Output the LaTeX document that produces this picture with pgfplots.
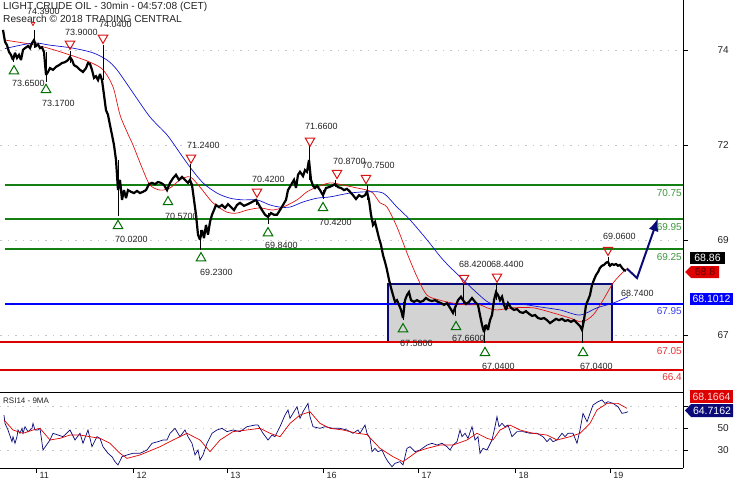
\documentclass[border=0pt]{standalone}
\usepackage{pgfplots}
\pgfplotsset{compat=1.18}
\usetikzlibrary{arrows.meta}
\usepackage{fontspec}
\setmainfont{Liberation Sans}
\definecolor{lgreen}{RGB}{20,128,20}
\definecolor{tgreen}{RGB}{60,150,60}
\definecolor{lblue}{RGB}{0,0,255}
\definecolor{tblue}{RGB}{60,60,230}
\definecolor{lred}{RGB}{220,0,0}
\definecolor{tred}{RGB}{230,50,50}
\definecolor{navy}{RGB}{10,10,120}
\definecolor{boxgray}{RGB}{211,211,211}
\definecolor{mared}{RGB}{225,20,20}
\definecolor{mablue}{RGB}{20,20,210}
\definecolor{mkred}{RGB}{215,20,20}
\definecolor{mkgreen}{RGB}{0,110,0}
\definecolor{txt}{RGB}{35,35,35}
\newcommand{\lbl}[3]{\node[anchor=west,inner sep=0pt,font=\fontsize{9}{10}\selectfont,text=txt] at (axis cs:#1,#2) {#3};}
\newcommand{\rlbl}[4]{\node[anchor=east,inner sep=0pt,font=\fontsize{10}{11}\selectfont,text=#4] at (axis cs:#1,#2) {#3};}
\begin{document}
\begin{tikzpicture}
\useasboundingbox (0pt,0pt) rectangle (735pt,480pt);
% ---------------- main price panel ----------------
\begin{axis}[at={(0pt,88pt)}, anchor=south west, scale only axis,
  width=683pt, height=392pt, xmin=0, xmax=683, ymin=65.879, ymax=75.103,
  axis x line*=bottom, axis y line*=right, clip=false,
  axis line style={black, line width=0.8pt},
  xtick=\empty,
  ytick={73.927,71.691,69.456,67.221}, yticklabels={74,72,69,67},
  yticklabel style={font=\fontsize{10}{11}\selectfont, text=txt, xshift=26pt},
  tick align=outside, major tick length=5pt, tick style={black, line width=0.6pt},
  ymajorgrids, major grid style={gray!45, dash pattern=on 1.5pt off 6pt, line width=0.5pt},
  unbounded coords=jump]
% consolidation box
\addplot[draw=navy, line width=1.8pt, fill=boxgray] coordinates {(388,68.42) (612,68.42) (612,67.05) (388,67.05)} -- cycle;
% horizontal levels
\addplot[lgreen, line width=2pt] coordinates {(5,70.75) (683,70.75)};
\addplot[lgreen, line width=2pt] coordinates {(5,69.95) (683,69.95)};
\addplot[lgreen, line width=2pt] coordinates {(5,69.25) (683,69.25)};
\addplot[lblue, line width=2pt] coordinates {(5,67.95) (683,67.95)};
\addplot[lred, line width=2pt] coordinates {(0,67.05) (683,67.05)};
\addplot[lred, line width=2pt] coordinates {(0,66.40) (683,66.40)};
% moving averages
\addplot[mared, line width=0.7pt, smooth] coordinates {
(5,74.16)(40,74.02)(70,73.81)(90,73.64)(103,73.46)(113,73.06)(120,72.40)(127,72.00)(133,71.69)(143,71.10)(150,70.75)(160,70.63)(170,70.68)(180,70.87)(190,70.94)(200,70.70)(213,70.33)(227,70.11)(237,70.09)(247,70.16)(260,70.21)(273,70.16)(283,70.23)(297,70.40)(307,70.59)(317,70.70)(330,70.80)(343,70.75)(357,70.68)(367,70.63)(373,70.56)(380,70.33)(387,70.23)(397,69.76)(407,69.15)(417,68.59)(427,68.16)(440,68.04)(453,67.97)(467,67.93)(480,67.93)(487,67.86)(497,67.81)(513,67.86)(533,67.86)(553,67.74)(570,67.62)(582,67.53)(593,67.69)(603,68.04)(613,68.44)(623,68.70)(628,68.80)};
\addplot[mablue, line width=0.7pt, smooth] coordinates {
(5,73.96)(33,74.09)(50,74.04)(73,73.97)(93,73.86)(107,73.69)(117,73.46)(133,72.92)(150,72.35)(167,71.93)(180,71.50)(190,71.17)(203,70.80)(217,70.56)(230,70.44)(243,70.40)(257,70.40)(270,70.28)(280,70.23)(290,70.23)(303,70.35)(317,70.44)(330,70.47)(350,70.56)(367,70.59)(383,70.56)(397,70.23)(410,69.93)(427,69.46)(443,68.99)(460,68.59)(477,68.21)(490,67.97)(507,67.93)(520,67.95)(540,67.88)(560,67.81)(580,67.69)(597,67.86)(613,67.97)(628,68.12)};
% wicks
\addplot[black, line width=1pt] coordinates {
(13,73.65)(13,73.81)(13,nan)(34,73.97)(34,74.39)(34,nan)(46,73.17)(46,73.88)(46,nan)
(70,73.62)(70,73.90)(70,nan)(103,73.22)(103,74.04)(103,nan)(118,70.02)(118,71.34)(118,nan)
(190,70.75)(190,71.24)(190,nan)(200,69.23)(200,69.69)(200,nan)(256,70.28)(256,70.42)(256,nan)
(268,69.84)(268,70.09)(268,nan)(309,70.87)(309,71.66)(309,nan)(323,70.42)(323,70.63)(323,nan)
(335,70.70)(335,70.87)(335,nan)(367,70.40)(367,70.75)(367,nan)(403,67.58)(403,68.00)(403,nan)
(455,67.66)(455,67.97)(455,nan)(463,67.95)(463,68.42)(463,nan)(484,67.04)(484,67.46)(484,nan)
(496,68.04)(496,68.44)(496,nan)(582,67.04)(582,67.57)(582,nan)(608,68.85)(608,69.06)};
% price (closes)
\addplot[black, line width=2.2pt, line join=miter, miter limit=3] coordinates {
(3,74.40)(5,74.12)(7,74.04)(9,73.88)(11,73.81)(13,73.69)(15,73.86)(17,73.74)(19,73.81)(21,73.69)
(23,73.93)(25,73.97)(28,74.02)(30,73.97)(32,74.09)(34,74.16)(36,74.02)(38,74.06)(40,73.97)(42,73.99)
(44,73.88)(46,73.34)(48,73.41)(50,73.50)(53,73.46)(56,73.53)(59,73.57)(62,73.62)(65,73.64)(68,73.69)
(70,73.76)(72,73.69)(74,73.57)(77,73.53)(80,73.46)(83,73.41)(86,73.50)(88,73.62)(90,73.60)(92,73.46)
(94,73.27)(96,73.31)(98,73.22)(100,73.36)(102,73.22)(104,72.87)(106,72.51)(108,72.40)(110,72.16)(112,71.93)
(114,71.69)(116,71.34)(118,70.63)(120,70.87)(122,70.40)(124,70.63)(126,70.44)(128,70.63)(131,70.59)(134,70.56)
(137,70.61)(140,70.56)(143,70.59)(146,70.63)(149,70.77)(152,70.80)(155,70.77)(158,70.82)(161,70.80)(164,70.75)
(167,70.63)(170,70.80)(173,70.91)(176,70.99)(179,70.87)(182,70.94)(185,70.87)(188,70.80)(190,70.87)(192,70.75)
(194,70.40)(196,70.05)(198,69.58)(200,69.46)(202,69.69)(204,69.50)(206,69.81)(208,69.58)(210,69.88)(212,70.05)
(214,70.16)(216,70.28)(219,70.23)(222,70.28)(225,70.21)(228,70.30)(231,70.23)(234,70.16)(237,70.28)(240,70.33)
(244,70.26)(248,70.30)(252,70.35)(256,70.40)(259,70.28)(262,70.16)(265,70.05)(268,70.00)(271,70.09)(274,70.05)
(277,70.05)(280,70.16)(283,70.28)(286,70.40)(288,70.63)(291,70.75)(294,70.87)(296,70.68)(298,70.99)(300,71.06)
(303,70.96)(305,71.10)(307,71.06)(309,71.34)(311,70.87)(313,70.73)(315,70.68)(317,70.73)(320,70.63)(323,70.51)
(326,70.68)(329,70.70)(332,70.73)(335,70.77)(338,70.70)(341,70.68)(344,70.63)(347,70.66)(350,70.59)(353,70.51)
(356,70.42)(359,70.51)(362,70.47)(365,70.51)(367,70.59)(369,70.40)(371,70.05)(373,69.81)(375,69.88)(377,69.69)
(379,69.50)(381,69.34)(383,69.10)(385,68.94)(387,68.75)(389,68.52)(391,68.33)(393,68.16)(395,68.00)(397,68.04)
(399,67.93)(401,67.81)(403,67.62)(405,68.04)(407,68.16)(409,68.23)(411,68.04)(414,68.00)(417,68.04)(420,68.00)
(423,68.02)(426,68.09)(429,68.04)(432,68.02)(435,68.04)(438,68.00)(441,67.97)(444,67.93)(447,67.97)(450,67.86)
(453,67.74)(455,67.86)(458,68.04)(461,68.12)(463,68.04)(466,67.95)(469,68.00)(472,68.09)(475,68.00)(478,67.93)
(480,67.69)(482,67.46)(484,67.29)(486,67.46)(488,67.34)(490,67.57)(492,67.69)(494,68.04)(496,68.23)(498,68.16)
(500,68.04)(502,68.12)(504,67.93)(506,67.81)(508,67.97)(511,67.86)(514,67.81)(517,67.83)(520,67.76)(523,67.74)
(526,67.78)(529,67.72)(532,67.67)(535,67.69)(538,67.62)(541,67.60)(544,67.62)(547,67.57)(550,67.50)(553,67.55)
(556,67.60)(559,67.57)(562,67.60)(565,67.55)(568,67.57)(571,67.53)(574,67.57)(577,67.50)(580,67.43)(582,67.34)
(584,67.57)(586,67.93)(588,68.04)(590,68.16)(592,68.40)(594,68.52)(596,68.63)(598,68.70)(600,68.80)(602,68.85)
(604,68.87)(606,68.92)(608,68.94)(610,68.85)(612,68.89)(614,68.87)(616,68.89)(618,68.85)(620,68.87)(622,68.80)
(624,68.75)(626,68.73)};
% forecast arrow
\addplot[navy, line width=2pt, -{Latex[length=13pt,width=10pt]}] coordinates {(627,68.78) (637,68.56) (658,69.97)};
% swing markers
\addplot[only marks, mark=triangle, mark size=5.5pt, mark options={draw=mkred, fill=white, line width=1pt, rotate=180}] coordinates {
(70,74.07)(103,74.21)(191,71.39)(257,70.59)(310,71.79)(337,71.03)(366,70.91)(464,68.56)(497,68.59)(608,69.22)};
\addplot[only marks, mark=triangle, mark size=2pt, mark options={draw=mkred, line width=0.8pt, rotate=180}] coordinates {(33,74.55)};
\addplot[only marks, mark=triangle, mark size=5.5pt, mark options={draw=mkgreen, fill=white, line width=1pt}] coordinates {
(14,73.43)(46,72.99)(118,69.79)(168,70.35)(201,69.03)(268,69.62)(323,70.21)(403,67.36)(456,67.41)(485,66.80)(583,66.80)};
% swing labels
\lbl{27}{74.84}{74.3900}
\lbl{65}{74.35}{73.9000}
\lbl{99}{74.52}{74.0400}
\lbl{187}{71.69}{71.2400}
\lbl{252}{70.87}{70.4200}
\lbl{305}{72.12}{71.6600}
\lbl{333}{71.31}{70.8700}
\lbl{362}{71.22}{70.7500}
\lbl{459}{68.87}{68.4200}
\lbl{491}{68.87}{68.4400}
\lbl{603}{69.53}{69.0600}
\lbl{12}{73.15}{73.6500}
\lbl{42}{72.66}{73.1700}
\lbl{115}{69.48}{70.0200}
\lbl{165}{70.02}{70.5700}
\lbl{200}{68.70}{69.2300}
\lbl{265}{69.32}{69.8400}
\lbl{319}{69.86}{70.4200}
\lbl{400}{67.03}{67.5800}
\lbl{452}{67.13}{67.6600}
\lbl{482}{66.47}{67.0400}
\lbl{580}{66.47}{67.0400}
\lbl{621}{68.21}{68.7400}
% level labels
\rlbl{682}{70.56}{70.75}{tgreen}
\rlbl{682}{69.76}{69.95}{tgreen}
\rlbl{682}{69.06}{69.25}{tgreen}
\rlbl{682}{67.79}{67.95}{tblue}
\rlbl{682}{66.84}{67.05}{tred}
\rlbl{682}{66.23}{66.4}{tred}
\end{axis}
% ---------------- RSI panel ----------------
\begin{axis}[at={(0pt,12pt)}, anchor=south west, scale only axis,
  width=683pt, height=76pt, xmin=0, xmax=683, ymin=13.64, ymax=82.73,
  axis x line*=bottom, axis y line*=right, clip=false,
  axis line style={black, line width=0.8pt},
  xtick={36.6,133.6,227.4,323.5,418.7,515.7,610.4}, xticklabels={11,12,13,16,17,18,19},
  xticklabel style={font=\fontsize{9}{10}\selectfont, text=txt, anchor=north west, yshift=4pt, xshift=-0.5pt},
  ytick={30,50,70}, yticklabels={30,50,{}},
  yticklabel style={font=\fontsize{10}{11}\selectfont, text=txt, xshift=26pt},
  tick align=outside, major tick length=5pt, tick style={black, line width=0.6pt},
  ymajorgrids, major grid style={gray!45, dash pattern=on 1.5pt off 6pt, line width=0.5pt}]
\addplot[navy, line width=0.7pt] coordinates {
(4,61.8)(5,54.2)(8,48.2)(12,37.6)(13,42.1)(15,36.1)(17,42.1)(18,48.2)(20,45.2)(22,49.7)(23,45.2)(25,51.2)
(28,46.7)(32,49.7)(33,54.2)(35,48.2)(38,48.2)(40,49.7)(43,30.0)(50,39.1)(53,45.2)(63,42.1)(70,48.2)(75,39.1)
(80,45.2)(83,36.1)(88,48.2)(92,33.0)(97,42.1)(100,40.6)(103,33.0)(108,27.0)(112,23.9)(115,19.4)(118,16.4)
(122,23.9)(127,25.5)(133,27.0)(140,27.0)(147,30.0)(152,36.1)(158,37.6)(163,39.1)(167,39.1)(170,45.2)(175,49.7)
(180,42.1)(185,48.2)(188,42.1)(192,36.1)(195,25.5)(198,30.0)(200,20.9)(203,25.5)(207,36.1)(212,45.2)(217,48.2)
(222,49.7)(227,46.7)(233,48.2)(240,46.7)(247,51.2)(255,52.7)(258,52.7)(263,45.2)(268,39.1)(272,43.6)(275,42.1)
(280,51.2)(285,61.8)(288,66.4)(290,58.8)(293,63.3)(297,69.4)(300,58.8)(303,64.8)(308,72.4)(310,60.3)(313,51.2)
(320,49.7)(325,51.2)(333,49.7)(340,49.7)(347,48.2)(353,45.2)(358,48.2)(360,45.2)(365,52.7)(367,45.2)(370,40.6)
(372,28.5)(375,31.5)(378,28.5)(382,30.0)(385,23.9)(388,19.4)(392,14.8)(395,17.9)(400,19.4)(403,16.4)(407,31.5)
(410,33.0)(415,28.5)(420,30.0)(427,34.5)(432,36.1)(437,34.5)(442,36.1)(447,33.0)(450,30.0)(453,34.5)(457,37.6)
(460,48.2)(462,42.1)(465,45.2)(468,40.6)(472,51.2)(475,39.1)(478,42.1)(480,27.0)(483,31.5)(487,30.0)(492,39.1)
(495,51.2)(497,60.3)(499,51.2)(502,54.2)(505,51.2)(508,52.7)(512,42.1)(517,46.7)(523,46.7)(530,45.2)(537,45.2)
(543,42.1)(547,37.6)(550,40.6)(553,37.6)(557,39.1)(562,45.2)(565,42.1)(568,45.2)(573,45.2)(577,36.1)(580,48.2)
(583,63.3)(587,55.7)(590,63.3)(593,70.9)(598,73.9)(602,75.5)(605,72.4)(608,73.9)(613,72.4)(618,69.4)(622,63.3)
(625,63.9)(628,64.8)};
\addplot[lred, line width=0.7pt] coordinates {
(4,57.3)(13,48.2)(23,45.2)(33,48.2)(40,49.7)(50,39.1)(60,40.6)(70,43.6)(80,43.6)(90,42.1)(100,40.6)(110,36.1)
(120,27.0)(127,22.4)(140,25.5)(160,33.0)(173,39.1)(187,45.2)(200,39.1)(210,28.5)(220,39.1)(233,46.7)(247,48.2)
(260,49.7)(270,45.2)(280,42.1)(290,54.2)(300,61.8)(310,64.8)(320,54.2)(330,49.7)(343,48.2)(357,45.2)(367,44.0)
(380,31.5)(393,23.9)(403,19.4)(410,23.9)(417,28.5)(427,31.5)(440,34.5)(453,34.5)(467,39.1)(477,45.2)(487,40.6)
(493,39.1)(500,48.2)(510,52.7)(520,48.2)(533,45.2)(547,43.6)(557,39.1)(570,42.1)(580,45.2)(590,54.2)(597,66.4)
(607,72.4)(618,72.4)(627,67.9)};
\end{axis}
% ---------------- annotations ----------------
\node[anchor=base west, inner sep=0pt, font=\fontsize{10.2}{11}\selectfont, text=txt] at (3pt,470pt) {LIGHT CRUDE OIL - 30min - 04:57:08 (CET)};
\node[anchor=base west, inner sep=0pt, font=\fontsize{10.2}{11}\selectfont, text=txt] at (3pt,457.5pt) {Research \textcopyright\ 2018 TRADING CENTRAL};
\node[anchor=base west, inner sep=0pt, font=\fontsize{8}{10}\selectfont, text=txt] at (3pt,77pt) {RSI14 - 9MA};
% right value boxes
\fill[black] (690pt,216pt) rectangle (725pt,228pt);
\node[text=white, font=\fontsize{10.5}{11}\selectfont, inner sep=0pt] at (707.5pt,222pt) {68.86};
\fill[lred] (685pt,208pt) -- (691pt,214pt) -- (719pt,214pt) -- (719pt,202pt) -- (691pt,202pt) -- cycle;
\node[text=red!40!black, font=\fontsize{10.5}{11}\selectfont, inner sep=0pt] at (705pt,208pt) {68.8};
\fill[lblue] (690pt,175pt) rectangle (733pt,187pt);
\node[text=white, font=\fontsize{10.5}{11}\selectfont, inner sep=0pt] at (711.5pt,181pt) {68.1012};
\fill[lred] (690pt,77pt) rectangle (733pt,90pt);
\node[text=red!15!white, font=\fontsize{10.5}{11}\selectfont, inner sep=0pt] at (711.5pt,83.5pt) {68.1664};
\fill[navy] (685pt,69.5pt) -- (691pt,76pt) -- (733pt,76pt) -- (733pt,63pt) -- (691pt,63pt) -- cycle;
\node[text=white, font=\fontsize{10.5}{11}\selectfont, inner sep=0pt] at (712pt,69.5pt) {64.7162};
\end{tikzpicture}
\end{document}
